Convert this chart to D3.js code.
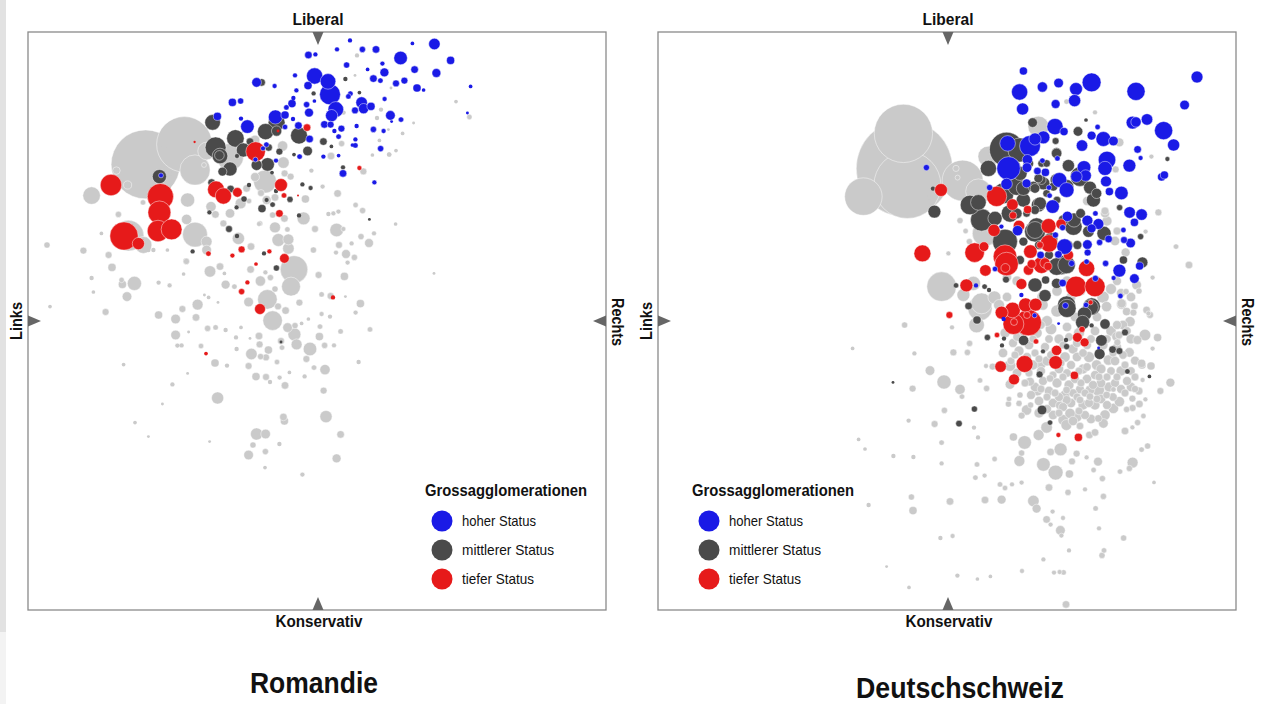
<!DOCTYPE html>
<html>
<head>
<meta charset="utf-8">
<script src="https://cdn.jsdelivr.net/npm/d3@7"></script>
<style>
html, body { margin: 0; padding: 0; background: #fff; overflow: hidden; }
text { font-family: "Liberation Sans", sans-serif; fill: #111; }
</style>
</head>
<body>
<div id="chart"></div>
<script>
// Werte: [links-rechts, konservativ-liberal, Grösse]
const romGrey = [
[-85.7,78.3,1156],[-66.3,88.3,747],[-61,75.5,215],[-112.7,62.7,69],[-64.7,60.5,44],[-61,43.2,144],[-94.3,42.7,225],[-86.8,38,64],[-55.2,85,70],[-43.5,82,170],
[-26,69.7,121],[-11.5,25.8,177],[-13,17.2,81],[-22.2,.2,87],[-24.8,10.8,87],[-6.7,51.3,36],[9.8,45.5,40],[-19.3,40.5,36],[-14.3,40.8,25],[-14.3,36.3,28],
[-21,46.8,25],[-39.3,41.3,32],[-43.5,53.8,18],[-38.2,58.8,25],[-53,57.2,22],[-50.8,53.3,11],[-65.2,50.8,22],[-55.2,39.7,25],[-55.2,35.5,19],[-99.3,53.3,7],
[-87,59.3,5],[-135,38,7],[-116.8,35.2,9],[-104.2,33,9],[-84.3,35.5,3],[-81.8,35.5,3],[-107.8,43.8,2],[-65.5,30,7],[-102.5,26.8,13],[-74.8,35.5,2],
[-17.2,87.5,22],[-16.8,79.2,28],[-16.2,73.8,9],[-13.2,72.2,9],[-31,90.5,19],[7,82.5,11],[10.3,63.8,11],[2.8,67.2,4],[-5.8,61,13],[-25.2,60.5,16],
[-35.2,66.3,11],[-46.8,48.8,9],[-28.5,48.8,5],[-1,46,9],[8.2,53.8,4],[10.7,54.7,4],[13.2,46,4],[5.7,53.5,3],[-1.8,35.5,7],[11,38,9],
[14.5,33.5,16],[9.5,34.2,4],[-48.5,27.2,11],[19.3,58,5],[22.8,55.2,7],[-2.8,75.2,3],[23.2,74.8,9],[22,42.2,7],[26,39,16],[17.3,38.8,3],
[28.5,43.8,4],[36.2,83.2,3],[39.3,48.5,2],[18.7,31.8,7],[-22.2,53,7],[-16.3,51.3,11],[-14.8,45.8,5],[-29,48.5,4],[-33,37.2,11],[-21,61.8,11],
[76.2,102,5],[69.5,109.7,2],[20,132.8,3],[19,122.8,1],[37,116.5,1],[32,105.7,3],[30,101.5,3],[48.3,99,1],[35.7,95.7,1],[42.8,93.8,2],
[31.2,90.3,2],[39.5,85.2,2],[36,83.3,3],[27.7,83,2],[12.3,88.7,7],[13.3,104.2,3],
[-91.3,18.8,44],[-95,12.2,19],[-97.3,18.3,13],[-97.7,20.5,5],[-105.7,4.5,9],[-112.7,21.5,3],[-111.8,14.5,2],[-133.5,7.2,2],[-96.7,-21.8,2],[-79.2,19.2,3],
[-73.7,17.8,4],[-79.2,3,13],[-70.7,1,19],[-67.3,6,9],[-59.7,8.2,25],[-60.5,1.8,11],[-70.7,-7,19],[-53.5,24.8,28],[-65.3,29.8,7],[-54.7,-3.7,7],
[-50.7,-3.2,5],[-45.7,18.2,16],[-41.3,17.2,5],[-28.3,20,22],[-23.3,21.7,7],[-33.2,25.8,11],[-25.8,24.3,4],[-21,16,7],[-34.2,9.5,19],[-19.5,7.3,9],
[-15.7,5.2,11],[-8.8,9.2,9],[.8,23,9],[13.7,22.3,13],[21.7,8.7,13],[19.3,4.2,4],[26.5,-4.2,5],[2.3,13.3,5],[6.8,12.5,9],[2.3,3.5,4],
[1.5,-2.8,5],[11.8,-5.2,5],[-11.3,-6.7,36],[-14.7,-3.3,19],[-11,-2.3,7],[-10.2,-11.7,25],[-18,-10,9],[-17.5,-13.3,5],[-29,-7.5,11],[-28.7,-11.7,9],
[-24.3,-14.5,13],[-32.8,-16.5,28],[-28.2,-17.8,7],[-25.5,-18.2,9],[-20,-20.5,5],[-34.2,-22.5,9],[-3.5,-14,40],[1.2,-7.8,13],[3.8,-12.2,7],[8.5,-12.2,4],
[-5.3,-19,9],[4,-24.3,22],[-1.5,-23.3,5],[-6.2,-27.7,3],[3.3,-34.8,9],[4.5,-47.8,32],[11.8,-56.7,11],[9.8,-68.7,16],[-7.3,-76.8,4],[20.8,-20.5,3],
[58.5,23.8,1],[-49.7,-38.5,32],[-51,-21,13],[-58,-12.5,5],[-69.8,-12.3,4],[-67.7,-12.2,3],[-72.3,-31.7,3],[-45,-22.3,3],[-30.5,-27.8,13],[-25.5,-28,9],
[-18.7,-28.3,4],[-16,-32.2,11],[-30.2,-56.5,32],[-25.7,-56.5,19],[-16.8,-48,11],[-16.3,-50,13],[-32,-62,7],[-34.2,-67,19],[-25.8,-65.3,7],[-18.8,-61.5,3],
[-26,-73.3,2],[-91,-50.8,2],[-84.3,-57.8,1],[-53.7,-60.3,1],[-77.3,-41.5,1],[15.3,29.2,4],[-46.3,23.8,2],[-54.2,11.8,2],[-56.3,13,1],[-66.7,23.5,2],
[-64.2,-5.5,1],[-49.5,9.3,1],[-38,-3.2,2],[-45.7,-4.5,3],[-40.5,-8.2,3],[-33.5,-8.7,1],[-40.2,-14,3],[-13.8,-25.7,2],[-23.5,-30.5,3],[-64.7,-26.2,1],
[-4.3,1,2],[-7.7,-1.2,2],[6.5,2.2,3],[14.2,12.2,1],[-100.3,75.2,11],[-94.7,68,13],[-76.5,87,3],[-73.5,73.7,3],[-56.5,78,4],[-31,72,16],[-28,64,9],[-34,60,5]
];
const romDark = [
[-52.2,99.3,54],[-78.8,72.2,44],[-50.7,86.8,100],[-48.5,82.5,54],[-48.8,82.8,19],[-40.8,91.3,69],[-36.8,85.5,44],[-43.5,76,44],[-47.3,74.7,16],[-25.7,94.7,59],
[-20.2,99.3,64],[-20.2,95,22],[-9,92.7,64],[-4.7,85,19],[3.2,89.7,11],[-24.7,78.3,40],[-30.2,78,25],[-33.5,89.7,11],[-27.7,119.3,11],[-18.8,84.7,9],
[-24.2,86.8,11],[-40,82.5,4],[-52.7,69.2,11],[-43.2,66,11],[-34,68,3],[-36.5,61,7],[-40.2,56.8,4],[-53.8,54.3,4],[-44,46,9],[-40,42.5,3],
[-27.5,56.2,13],[-22.2,58.2,5],[-25.2,60.5,4],[-13.5,60.8,7],[-7.3,68.3,3],[-3.2,66.5,4],[-9,52.8,3],[-1.7,113.8,3],[14.2,121,3],[7.2,87.3,2],
[13,76.8,4],[-62.2,34.8,3],[-26.5,33.8,3],[-20.3,26.5,7],[21.2,114.2,2],[-20.5,65,3],[26.2,50.8,1],[-22.5,74.2,2],[-11.5,83.2,2],[-18,-10.5,1]
];
const romRed = [
[-103,68,106],[-78.3,62.2,160],[-78.8,54.3,121],[-79.5,45,106],[-72.7,45.8,100],[-96.5,42.5,187],[-89.3,38.7,32],[-50.5,65.8,64],[-46.8,62.5,59],[-39.8,64.3,19],
[-30.7,84.7,87],[-5,96.7,11],[-19.5,95,1],[-18,68,36],[-16.5,62.8,5],[-18.8,53.8,11],[-54.3,33.7,5],[-42.3,32.7,4],[-37.7,35.8,9],[-23.8,34.8,4],
[-16.3,31.3,19],[-30.5,28.5,2],[-61.2,89.5,.5],[21.2,76.5,4],[-9.5,62.8,.3],[-28.5,6,25],[-37.7,14.7,7],[-34.8,19.3,3],[8,11.8,3],[-55.5,-16.3,2]
];
const romBlue = [
[58.7,138.5,28],[41.8,131.5,40],[66.8,130.3,13],[59.7,124,16],[48.8,125.7,11],[50,116.5,13],[53.3,115.5,2],[76.8,117.3,2],[47.7,138.8,2],[29.5,135.8,11],
[22.7,135.8,7],[16.5,140.3,3],[10,135.8,4],[14.8,128,7],[32.7,128.7,4],[25.3,125.8,2],[33.7,124.3,16],[28.2,121.2,11],[31.7,120.2,5],[39.5,118.8,9],
[43.7,120.2,9],[-1.2,122.5,59],[5.5,119.8,54],[6.5,113.3,100],[9.4,105.8,54],[7.3,102.7,32],[16.7,113.7,5],[15.7,112.3,5],[22.3,109.2,28],[23.3,106.2,22],
[27,107.3,13],[19,105.3,9],[33.8,111,4],[36.7,102.8,19],[37.3,99.7,1],[42,100.7,5],[19.8,97.5,3],[28.2,95.8,7],[33.3,95,4],[12.2,96.2,9],
[3.7,98.3,11],[6.8,98.2,9],[8.7,95,3],[10.8,92.2,5],[19.2,90.8,3],[19.2,87.8,5],[17.7,88,2],[31.8,86.2,7],[3.2,82.2,3],[10.8,82.7,2],
[75.2,104,1],[-4.3,133,11],[-.8,133.3,3],[-11,122.8,4],[-4.5,117.7,13],[-10.3,115.3,4],[-21.2,117.5,4],[-30.2,119.3,19],[-42.3,109.3,13],[-38.2,110,7],
[-49.8,102.3,13],[-38,101.2,3],[-34.8,97.2,40],[-20.8,102,44],[-16,103,13],[-12.5,108.7,13],[-15.3,106.8,5],[-11.8,111.5,3],[-5.2,108.2,7],[-4,104.2,16],
[-1.3,110,2],[-9.3,97.7,11],[-3.7,91,11],[-25.3,88.2,5],[-27,86.3,4],[-30.8,80.7,4],[-20.5,80.2,4],[-8.7,82.2,5],[13,73.8,11],[-78,72.8,4],
[28.7,69.3,4],[-16,97,5],[-12,101,3]
];

const deGrey = [
[-21.3,76.3,2275],[-21.8,93.8,824],[-19.8,68,1089],[-41.8,62.2,335],[7.8,70.2,400],[15.7,64.7,150],[20.7,82.2,100],[45.7,97.2,100],[-2.7,17.2,205],[.7,33.8,4],
[8.2,13,36],[13.2,18.8,44],[23.7,11.8,36],[17.3,8.8,100],[6.5,50.2,7],[9.3,45,5],[11.2,39.7,7],[74,104.3,4],[59.8,109.7,5],[86.2,89.3,16],
[84.3,75.8,9],[102.2,82.2,4],[79,53.8,16],[105.7,54.3,9],[114.5,37.2,5],[121,28,11],[89.3,34.3,16],[102.8,21.7,4],[94.8,18,19],[99.3,44.7,4],
[24,50.5,28],[19,43.8,150],[4.5,76.3,7],[5.3,71.7,4],[-9,61.7,3],[-1.5,-30.5,44],[6.5,-34.2,22],[7.5,-37.8,5],[-17.2,-33.8,9],[-8.5,-24.8,19],
[-21.2,-2,7],[3.2,-15.7,9],[10.2,-15.7,7],[11.3,-11.2,7],[-16.3,-16.2,3],[16.5,6.3,136],[14.8,-2,54],[19.5,-22.5,4],[22.8,-22.8,9],[31.5,-22.3,28],
[19.8,-33.7,7],[16.5,-29.7,5],[31.5,-31.7,19],[46.8,-21.2,28],[41.5,-30.3,16],[45.2,-34.7,25],[51.5,-28.7,11],[36.5,-37,7],[31,-39,5],[30.7,-41.5,7],
[36,-41.2,7],[39.8,-44.5,22],[37.3,-47.3,9],[41.8,-42,7],[56.5,-42.2,16],[61.5,-46.2,22],[58.2,-49.5,25],[64.8,-47.8,25],[59.8,-39.5,16],[66.5,-39.5,11],
[66.5,-34.2,16],[59.8,-34.5,11],[71.5,-34.5,19],[75.7,-34.5,32],[71.5,-37.8,11],[79.8,-37,11],[83.2,-34.2,5],[78.2,-51.2,19],[79,-47,22],[75.7,-48.7,11],
[83.2,-43.7,22],[86.2,-40.3,22],[89.8,-44.2,7],[92.8,-43.5,9],[96.2,-41.5,11],[92.7,-38.8,9],[99.2,-39.2,4],[98.2,-47.5,5],[95.3,-50.8,7],[92.7,-53.2,4],
[89,-55,11],[100.3,-62.5,7],[97.3,-64.3,5],[92.8,-70.8,25],[91.2,-73.7,7],[86.5,-75.3,5],[103.5,-80.7,2],[77.7,-78.8,7],[69,-84.2,4],[78.2,-87.7,7],
[74.3,-93.7,5],[88.3,-108.5,7],[78.5,-114.7,5],[77.5,-117.2,7],[76,-103.7,4],[61,-114.7,3],[59.5,-141.7,11],[58.3,-125.7,5],[56.3,-125.5,4],[53.5,-125.8,4],
[37.5,-125,4],[48.2,-119.2,3],[56.7,-104.7,19],[57.2,-107.3,4],[58,-98.5,4],[49.8,-99.2,11],[51.8,-101.8,4],[52.8,-95.3,4],[60.5,-85.7,7],[51,-83.3,11],
[44.8,-93.8,16],[43.2,-90,28],[27.3,-89.3,16],[19,-89.5,11],[1.5,-90.2,11],[-17,-94.8,13],[-17.8,-88,7],[-39.2,-92,3],[29,-83.5,5],[26.5,-81.7,5],
[32.5,-81.7,4],[37.3,-80.8,4],[14.2,-78.3,5],[18.8,-77.3,4],[15,-71.7,5],[23.8,-69,5],[48.2,-71.7,40],[54.3,-75.8,49],[61.2,-76.5,13],[62.5,-70.2,9],
[36.2,-70,25],[37.3,-66,7],[56.8,-64.2,36],[51.8,-65.5,11],[64.8,-66.3,9],[69.8,-68.2,4],[75.5,-70.3,16],[73.3,-74.5,5],[38.8,-60.7,40],[33.2,-58,13],
[45.8,-57,25],[71.2,-57,11],[74,-55.7,11],[49.8,-53.2,28],[59.7,-52,25],[66.5,-52.5,11],[-6.2,-51.5,9],[-1.3,-44.7,7],[-19.2,-49.8,3],[13.5,-53.3,3],
[15.5,-58.2,3],[-2.7,-60.8,5],[-26.8,-67.5,3],[-16.8,-68,3],[-2.7,-71.2,3],[-44.2,-59.2,2],[-41,-64,2],[-47.2,-13.7,2],[2.5,-3.2,4],[-3.3,-108.5,3],
[2.8,-107.5,4],[-30.2,-122.8,1],[5.2,-127.3,3],[15.2,-129,2],[21.7,-127.7,2],[-19,-133.2,2],[111.7,-30.8,16],[106.7,-35,9],[105.3,-8.3,13],[99,-7,28],
[95.2,-9.5,16],[91.2,-15.7,19],[94,-19.8,16],[97.5,-22,13],[102,-22.5,13],[97.8,-29.5,4],[102.8,-13.8,4],[100.7,3.8,4],[99.8,5.5,11],[101.5,3,9],
[93.7,7.5,11],[91.5,-.3,22],[87.3,8.5,22],[89.8,4.7,13],[93.2,4.2,9],[84.8,-7.8,19],[80.7,-19.5,22],[74.8,-22,22],[85.2,-10.7,9],[97.3,-21.2,13],
[96,15,7],[79.8,7.2,22],[89.5,14.7,7],[87.3,8.8,16],
[29,-6,20],[33,-11,16],[37,-5,25],[41,-12,18],[45,-6,22],[49,-13,16],[52,-4,28],[56,-9,20],[60,-3,18],[63,-14,20],[66,-6,25],[70,-12,16],[74,-5,18],[78,-12,20],[82,-5,22],[85,-13,16],[88,-2,18],[92,-9,20],
[28,-16,18],[32,-20,12],[36,-15,20],[40,-18,16],[44,-16,12],[43,-22,20],[47,-25,16],[50,-20,20],[53,-27,12],[56,-24,18],[59,-18,22],[62,-22,16],[65,-18,18],[68,-24,20],[71,-18,25],[74,-27,16],[77,-24,20],[80,-28,12],[84,-20,18],[87,-25,20],[90,-30,16],[94,-28,12],
[35,-26,18],[39,-31,12],[44,-33,18],[48,-30,16],[51,-35,18],[55,-31,20],[58,-28,12],[61,-32,20],[64,-29,16],[67,-31,12],[70,-29,18],[73,-32,16],[77,-31,18],[81,-33,20],[84,-31,16],[87,-34,16],[92,-33,18],[96,-35,12],
[42,-37,16],[46,-40,18],[50,-38,12],[53,-41,18],[56,-38,16],[59,-37,20],[62,-41,18],[65,-38,12],[68,-42,20],[71,-41,16],[74,-42,20],[77,-39,18],[80,-42,16],
[46,-46,20],[50,-44,16],[53,-47,18],[56,-46,12],[58,-43,16],[63,-50,18],[66,-45,12],[69,-47,16],[72,-49,18],
[30,12,18],[26,8,25],[48,12,32],[55,15,22],[62,12,20],[78,12,32],[82,16,25],[87,14,16],[92,12,18],[75,20,20],[85,20,16],[67,15,18],[60,20,20],[35,20,20],[30,22,18],[55,5,32],[50,0,25],[48,8,22],[75,2,18],[85,-2,16],[64,2,18],
[70,60,16],[72,65,12],[80,50,20],[84,40,18],[79,55,12],[85,45,12],
[31,-3,16],[35,-8,14],[39,-2,16],[43,-9,12],[47,-2,14],[51,-9,14],[54,-15,16],[58,-12,12],[61,-8,14],[65,-11,16],[68,-16,14],[72,-9,14],[76,-16,16],[80,-9,14],[83,-16,12],[86,-7,12],[90,-5,14],[88,-17,14],
[34,-17,12],[38,-22,14],[41,-26,12],[46,-19,12],[52,-17,14],[57,-21,12],[60,-26,14],[66,-25,12],[70,-23,14],[76,-28,12],[82,-25,14],[85,-28,12],[89,-22,12],[92,-25,14],[47,-34,12],[54,-36,12],[63,-36,14],[69,-36,12],[75,-39,12],[83,-38,14],[89,-36,12],[94,-34,10]
];
const deDark = [
[29.8,85.8,279],[20.7,76.3,59],[11.5,58,87],[15.7,59.3,54],[17.3,50.5,114],[24,51.3,44],[-6.3,54.7,36],[-7,66.2,3],[29,39.7,144],[42.8,99.2,19],
[54.3,90,9],[65.5,94.8,19],[54.8,84.2,22],[60.7,77.7,32],[66.5,72.2,87],[71.5,66.7,36],[74.8,63.8,22],[73.2,60.5,44],[86.3,56.7,7],[110.2,81,4],
[69.5,100.5,2],[63.5,50.5,44],[66.8,53.8,19],[78.5,43.8,44],[70.7,44.7,28],[65.2,38,16],[60.7,38,16],[88.2,30.5,13],[97.7,29.3,25],[96.8,42.2,7],
[44,18,44],[49.3,20.5,13],[49,12.7,32],[54.8,18.8,22],[44,45.5,64],[57.3,28,87],[59.8,8,75],[72.3,7.2,69],[4.5,17.8,5],[18.8,17.2,5],
[21,15.5,3],[10.8,7.5,11],[29.5,20.7,9],[38.2,60.5,44],[44,66.3,19],[38.2,66.3,44],[46.5,58.8,36],[49.8,63.8,11],[34.8,67.2,69],[47.3,70.5,16],
[34.8,53.8,25],[39.8,53.8,11],[53.2,67.2,16],[44,55.5,16],[55,60.5,11],[58.2,50.5,22],[38.2,39.7,16],[47.3,78.8,11],[59.8,67.2,44],[33.2,77.2,44],
[49.8,78.8,11],[36.5,30.5,16],[15,.5,13],[20.2,-8.2,7],[28.5,-8.8,3],[38.3,-9.7,22],[60,6.3,75],[71.8,6.8,54],[68.7,3.5,44],[67.8,-.7,44],
[79,-1.5,22],[89,-5.7,9],[77.2,-9.7,28],[76.3,-16.5,25],[82.8,-14.3,11],[86.2,-15,9],[90.2,-25.2,5],[101.2,-27.7,2],[59.8,-12.8,7],[48,-15.2,4],
[46.3,-26.7,9],[59.5,-9.5,3],[72.3,-2.2,3],[47.5,-44.5,19],[51.5,-50.8,5],[13.7,-44,7],[6,-51.3,8],[-27,-30.7,1],[27.5,-12.2,3],
[36.5,85.5,136],[28.2,63.8,100],[45.7,58,44],[31.5,53.8,69],[43.2,67.2,25],[48.2,68.8,36],[44.8,47.2,69],[36.5,73.8,44],[45.7,71.3,16],[54.8,83.8,22],
[54.8,70.5,36],[40.7,78.8,22],[44,44.7,100],[63.2,47.2,69],[54.8,27.2,69],[59.8,28,69],[52,41,40],[51,33,16],[46,38,16],[31,33,16]
];
const deRed = [
[-3,65.5,36],[-12.3,33.8,64],[24.8,62.3,94],[32.7,58.2,28],[33,52.8,11],[40.3,55.7,13],[23.5,45.3,32],[13.8,34.2,87],[18.5,37.2,19],[29,32.2,128],
[29.8,28.5,128],[29.2,26.5,16],[19.2,25.3,28],[9.7,17.8,36],[37.2,18.5,25],[36,47.5,28],[50.8,47.5,49],[57,48.5,22],[51,38.8,69],[46.5,38,9],
[41.7,34.7,40],[47.3,28,64],[42.3,28.5,16],[40.7,25.5,22],[49,29,22],[50.5,27.3,13],[60.7,33,22],[69.8,26.3,59],[64.5,17.2,100],[74,17.2,94],
[39.3,8,44],[44.3,8.2,36],[32.8,5.5,54],[27.3,4.2,36],[40.7,-.8,161],[33.2,-1.5,100],[1.2,3,9],[25,-7,5],[44.5,-10.2,5],[54.8,-14.7,22],
[54.3,-20.7,40],[38.8,-21.5,64],[26.8,-22.8,28],[33.5,-29.2,25],[63.7,-27.2,13],[55.7,-57,4],[65.7,-58.2,13],[67.5,-4.2,7],[65.2,-8.2,19],[68.8,-10.7,16],
[71.8,9.3,4],[33.5,-.5,9],[40,3,9]
];
const deBlue = [
[38.2,125,13],[36.3,114.5,59],[37.8,106,32],[47.7,117,22],[55.8,119,19],[64.5,116,36],[72.3,119.3,81],[63.8,110.2,32],[54.3,108.5,16],[94.5,114.8,75],
[118.8,108,19],[125,122,30],[108.3,95.2,75],[113.3,88,32],[100,100.8,28],[94.5,99.5,22],[92.8,99.2,36],[54,97.2,59],[58.5,94.7,13],[75.3,97,5],[72.3,92.7,16],
[78.2,91,49],[83.2,90,19],[67.5,87.7,28],[95.3,85.8,11],[96.8,81.5,4],[80,80.5,69],[79,76.3,44],[91.2,77.7,36],[68.5,76.8,40],[69.3,72.7,28],
[64.7,72.2,28],[79.5,69.8,25],[81.2,64.7,13],[87.2,64,40],[107.3,72,13],[108.7,73,13],[91.3,54.3,28],[97.3,53.2,28],[93.7,49.3,13],[88.2,45.5,5],
[88.5,40.5,9],[91.8,39,19],[80.8,41,11],[74.2,53.8,5],[70.2,50.2,25],[75.7,48.5,25],[72.3,46.3,16],[70.2,38.2,19],[76.3,39.3,7],[70.3,34.2,9],
[79.3,28.8,7],[86.2,25.2,36],[96.3,27.5,13],[93.7,21.2,19],[83.3,21.5,4],[86.7,12.5,5],[74.2,21.3,7],[69.8,29.7,5],[62.3,28.8,7],[57.8,19,11],
[58.8,37.2,54],[55.7,33.3,11],[46.8,33,11],[54.2,43,7],[57.8,46.7,7],[35.3,45.2,22],[27.2,47.2,4],[24,26,5],[14.5,17.8,3],[-10.3,76.7,7],
[21.3,66.7,7],[30.3,88.8,54],[41.5,87.5,100],[44,91,32],[48.2,91.8,36],[30.8,76.3,128],[29.8,68.5,28],[40.2,80.7,22],[40,76.7,19],[45.2,75,11],
[49.2,74.3,13],[47.7,80.2,5],[55.2,81.3,5],[39.8,68.8,16],[56.2,70.5,49],[59.8,65.5,49],[51,66.7,5],[51.3,62.7,5],[52.8,57.2,40],[60.2,52.3,22],
[59.2,7.7,7],[69.5,8,5],[43.8,2.8,4],[28.3,1,3],[55.8,-1.3,1],[75.8,-13.5,1],[37.2,13,3]
];

const statusLabels = ["hoher Status", "mittlerer Status", "tiefer Status"];
const statusColors = ["#1a1ae6", "#4a4a4a", "#e61a1a"];
const legendTitle = "Grossagglomerationen";
const axisEnds = ["Liberal", "Konservativ", "Links", "Rechts"];
const panelNames = ["Romandie", "Deutschschweiz"];

const greyColor = "#cacaca";

const svg = d3.select("#chart").append("svg")
    .attr("width", 1270)
    .attr("height", 704);

svg.append("rect").attr("width", 1270).attr("height", 704).attr("fill", "#fff");
// grauer Rand links vom Screenshot
svg.append("rect").attr("x", 0).attr("y", 0).attr("width", 6).attr("height", 632).attr("fill", "#e2e2e2");
svg.append("rect").attr("x", 0).attr("y", 632).attr("width", 6).attr("height", 72).attr("fill", "#f3f3f3");

const size = 578;
const x = d3.scaleLinear().domain([-144.5, 144.5]).range([0, size]);
const y = d3.scaleLinear().domain([-144.5, 144.5]).range([size, 0]);
const r = d3.scaleSqrt().domain([0, 2500]).range([0, 50]);

function flat(arr, color, rank) {
    return arr.map(d => ({ px: d[0], py: d[1], s: d[2], color, rank }));
}

// Schmalschrift gibt es nicht, also auf feste Breite stauchen
function fit(sel, w) {
    return sel.attr("textLength", w).attr("lengthAdjust", "spacingAndGlyphs");
}

function drawPanel(left, grey, dark, red, blue, legendX, name, nameX, nameY, nameW) {
    const g = svg.append("g").attr("transform", `translate(${left},32)`);

    g.append("rect")
        .attr("width", size)
        .attr("height", size)
        .attr("fill", "#fff")
        .attr("stroke", "#8a8a8a")
        .attr("stroke-width", 1.3);

    // grosse zuerst, damit kleine sichtbar bleiben
    const all = [].concat(
        flat(grey, greyColor, 0),
        flat(dark, statusColors[1], 1),
        flat(red, statusColors[2], 2),
        flat(blue, statusColors[0], 3)
    ).sort((a, b) => a.rank - b.rank || b.s - a.s);

    g.selectAll("circle.bubble")
        .data(all)
        .enter().append("circle")
        .attr("class", "bubble")
        .attr("cx", d => x(d.px))
        .attr("cy", d => y(d.py))
        .attr("r", d => r(d.s) + 0.45)
        .attr("fill", d => d.color)
        .attr("stroke", "#fff")
        .attr("stroke-opacity", 0.65)
        .attr("stroke-width", d => d.s < 4 ? 0 : 0.7);

    // Dreiecke an den Achsenenden
    const mid = size / 2;
    const tri = [
        `M${mid - 4.5},0L${mid + 6.5},0L${mid + 1},13Z`,
        `M${mid - 4.5},${size}L${mid + 6.5},${size}L${mid + 1},${size - 13}Z`,
        `M0,${mid - 5.5}L0,${mid + 5.5}L13,${mid}Z`,
        `M${size},${mid - 5.5}L${size},${mid + 5.5}L${size - 13},${mid}Z`
    ];
    g.selectAll("path.tri").data(tri).enter().append("path")
        .attr("class", "tri")
        .attr("d", d => d)
        .attr("fill", "#666");

    const endStyle = sel => sel
        .attr("text-anchor", "middle")
        .attr("font-size", 16)
        .attr("font-weight", "bold");

    g.append("text").attr("x", mid + 1).attr("y", -7).call(endStyle).call(fit, 51).text(axisEnds[0]);
    g.append("text").attr("x", mid + 2).attr("y", size + 17).call(endStyle).call(fit, 87).text(axisEnds[1]);
    g.append("text").attr("transform", `translate(-6,${mid}) rotate(-90)`).call(endStyle).call(fit, 38).text(axisEnds[2]);
    g.append("text").attr("transform", `translate(${size + 6},${mid + 1}) rotate(90)`).call(endStyle).call(fit, 48).text(axisEnds[3]);

    // Legende
    const leg = g.append("g").attr("transform", `translate(${legendX},0)`);
    leg.append("text")
        .attr("x", 0).attr("y", 464)
        .attr("font-size", 16)
        .attr("font-weight", "bold")
        .call(fit, 162)
        .text(legendTitle);
    const row = d3.scalePoint().domain(statusLabels).range([489, 547]);
    const labelW = [74, 92, 72];
    statusLabels.forEach((lab, i) => {
        leg.append("circle")
            .attr("cx", 17).attr("cy", row(lab)).attr("r", 10.5)
            .attr("fill", statusColors[i]);
        leg.append("text")
            .attr("x", 37).attr("y", row(lab) + 5)
            .attr("font-size", 15)
            .attr("fill", "#222")
            .call(fit, labelW[i])
            .text(lab);
    });

    svg.append("text")
        .attr("x", nameX)
        .attr("y", nameY)
        .attr("text-anchor", "middle")
        .attr("font-size", 30)
        .attr("font-weight", "bold")
        .call(fit, nameW)
        .text(name);
}

drawPanel(28, romGrey, romDark, romRed, romBlue, 397, panelNames[0], 314, 693, 128);
drawPanel(658, deGrey, deDark, deRed, deBlue, 34, panelNames[1], 960, 697.5, 208);
</script>
</body>
</html>
